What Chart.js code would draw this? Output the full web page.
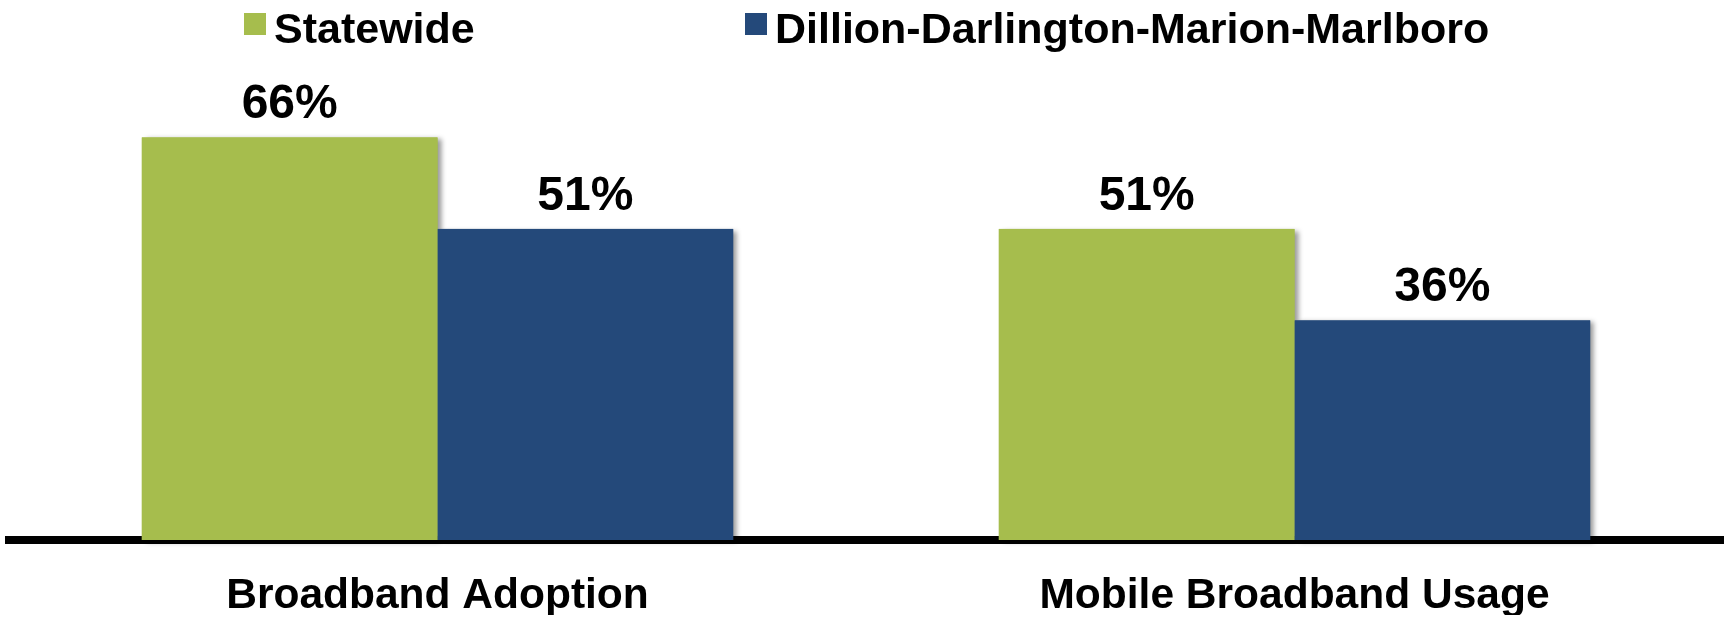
<!DOCTYPE html>
<html>
<head>
<meta charset="utf-8">
<script src="https://cdn.jsdelivr.net/npm/chart.js@4.4.1/dist/chart.umd.min.js"></script>
<style>
  body { margin: 0; background: #fff; }
</style>
</head>
<body>
<canvas id="chart" width="1727" height="617"></canvas>
<script>
const categories = ['Broadband Adoption', 'Mobile Broadband Usage'];
const seriesNames = ['Statewide', 'Dillion-Darlington-Marion-Marlboro'];
const statewide = [66, 51];
const regional = [51, 36];
const seriesColors = ['#A6BD4D', '#24497A'];

const FONT = '"Liberation Sans", Arial, sans-serif';

// bar shadows go under all bars, so the right bar covers the left one's shadow
const barShadows = {
    id: 'barShadows',
    beforeDatasetsDraw(chart) {
        const ctx = chart.ctx;
        ctx.save();
        ctx.shadowColor = 'rgba(0,0,0,0.4)';
        ctx.shadowBlur = 5;
        ctx.shadowOffsetX = 4;
        ctx.shadowOffsetY = 2;
        chart.data.datasets.forEach((ds, i) => {
            chart.getDatasetMeta(i).data.forEach(bar => {
                ctx.fillStyle = ds.backgroundColor;
                ctx.fillRect(bar.x - bar.width / 2, bar.y, bar.width, bar.base - bar.y);
            });
        });
        ctx.restore();
    }
};

// value labels above bars
const valueLabels = {
    id: 'valueLabels',
    afterDatasetsDraw(chart) {
        const ctx = chart.ctx;
        ctx.save();
        ctx.font = 'bold 48px ' + FONT;
        ctx.fillStyle = '#000';
        ctx.textAlign = 'center';
        ctx.textBaseline = 'alphabetic';
        chart.data.datasets.forEach((ds, i) => {
            chart.getDatasetMeta(i).data.forEach((bar, j) => {
                ctx.fillText(ds.data[j] + '%', bar.x, bar.y - 19);
            });
        });
        ctx.restore();
    }
};

// legend: small square + label, laid out like the original
const topLegend = {
    id: 'topLegend',
    afterDraw(chart) {
        const ctx = chart.ctx;
        const boxX = [244, 745];
        ctx.save();
        ctx.font = 'bold 43px ' + FONT;
        ctx.textBaseline = 'alphabetic';
        ctx.textAlign = 'left';
        chart.data.datasets.forEach((ds, i) => {
            ctx.fillStyle = ds.backgroundColor;
            ctx.fillRect(boxX[i], 13, 22, 22);
            ctx.fillStyle = '#000';
            ctx.fillText(ds.label, boxX[i] + 30, 43);
        });
        ctx.restore();
    }
};

new Chart(document.getElementById('chart').getContext('2d'), {
    type: 'bar',
    data: {
        labels: categories,
        datasets: [
            { label: seriesNames[0], data: statewide, backgroundColor: seriesColors[0] },
            { label: seriesNames[1], data: regional, backgroundColor: seriesColors[1] }
        ]
    },
    options: {
        responsive: false,
        animation: false,
        devicePixelRatio: 1,
        layout: { padding: { top: 52, left: 9, right: 4, bottom: 2 } },
        datasets: { bar: { barPercentage: 1, categoryPercentage: 0.69 } },
        plugins: {
            legend: { display: false },
            tooltip: { enabled: false }
        },
        scales: {
            x: {
                z: 1, // axis line drawn over the bar feet
                grid: { display: false, drawTicks: false, tickLength: 0 },
                border: { display: true, color: '#000', width: 8 },
                ticks: {
                    color: '#000',
                    font: { family: FONT, size: 42.5, weight: 'bold' },
                    padding: 31,
                    maxRotation: 0,
                    autoSkip: false
                },
                afterFit(scale) {
                    scale.height = 75;
                }
            },
            y: {
                display: false,
                min: 0,
                max: 80
            }
        }
    },
    plugins: [barShadows, valueLabels, topLegend]
});
</script>
</body>
</html>
